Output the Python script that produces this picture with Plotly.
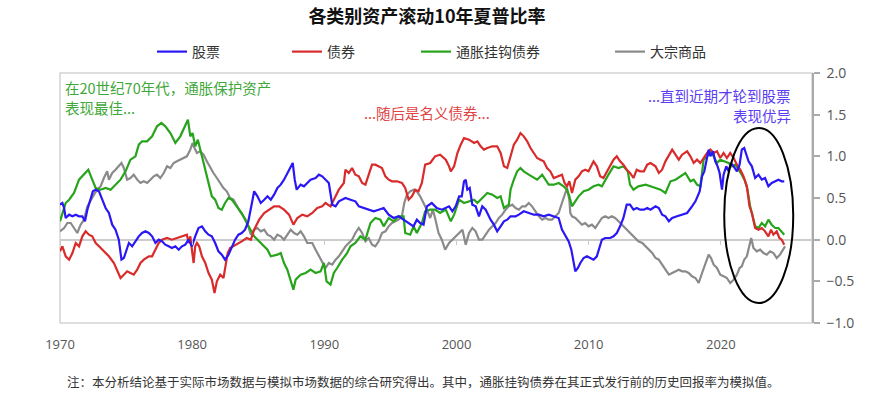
import plotly.graph_objects as go

# ---------------- data ----------------
stock_years = [1970.0, 1970.18, 1970.31, 1970.43, 1970.69, 1970.94, 1971.19, 1971.44, 1971.69, 1971.89,
               1972.07, 1972.32, 1972.49, 1972.70, 1972.95, 1973.20, 1973.45, 1973.70, 1973.95, 1974.20,
               1974.45, 1974.65, 1974.83, 1974.96, 1975.21, 1975.46, 1975.71, 1975.96, 1976.21, 1976.46,
               1976.72, 1976.97, 1977.22, 1977.47, 1977.72, 1977.97, 1978.22, 1978.47, 1978.73, 1978.98,
               1979.23, 1979.48, 1979.73, 1979.98, 1980.23, 1980.48, 1980.74, 1980.99, 1981.24, 1981.49,
               1981.74, 1981.99, 1982.24, 1982.49, 1982.75, 1983.00, 1983.25, 1983.50, 1983.75, 1984.00,
               1984.25, 1984.57, 1984.69, 1984.94, 1985.19, 1985.45, 1985.70, 1985.95, 1986.20, 1986.45,
               1986.70, 1986.95, 1987.20, 1987.46, 1987.61, 1987.76, 1987.91, 1988.21, 1988.46, 1988.71,
               1988.96, 1989.34, 1989.59, 1989.84, 1990.09, 1990.34, 1990.60, 1990.85, 1991.10, 1991.35,
               1991.60, 1991.98, 1992.35, 1992.61, 1992.98, 1993.36, 1993.74, 1994.11, 1994.49, 1994.87,
               1995.24, 1995.62, 1996.00, 1996.38, 1996.75, 1997.00, 1997.25, 1997.51, 1997.76, 1998.13,
               1998.51, 1998.89, 1999.44, 1999.69, 1999.94, 2000.20, 2000.40, 2000.57, 2000.70, 2000.82,
               2001.00, 2001.20, 2001.45, 2001.70, 2001.95, 2002.21, 2002.58, 2002.83, 2003.08, 2003.34,
               2003.59, 2003.84, 2004.09, 2004.47, 2004.72, 2005.09, 2005.47, 2005.85, 2006.23, 2006.60,
               2006.98, 2007.36, 2007.73, 2007.98, 2008.24, 2008.49, 2008.69, 2008.86, 2008.99, 2009.19,
               2009.37, 2009.62, 2009.87, 2010.12, 2010.37, 2010.62, 2010.87, 2011.00, 2011.25, 2011.63,
               2011.88, 2012.13, 2012.38, 2012.63, 2012.88, 2013.13, 2013.39, 2013.64, 2013.89, 2014.18,
               2014.43, 2014.68, 2015.06, 2015.31, 2015.56, 2015.81, 2016.07, 2016.32, 2016.69, 2017.07,
               2017.45, 2017.82, 2018.08, 2018.40, 2018.58, 2018.75, 2018.90, 2019.08, 2019.21, 2019.41,
               2019.58, 2019.76, 2019.91, 2020.09, 2020.21, 2020.41, 2020.59, 2020.76, 2020.97, 2021.22,
               2021.42, 2021.59, 2021.77, 2021.92, 2022.10, 2022.35, 2022.60, 2022.85, 2023.10, 2023.35,
               2023.60, 2023.85, 2024.11, 2024.36, 2024.61, 2024.80]
stock_vals = [0.42, 0.44, 0.38, 0.26, 0.30, 0.28, 0.30, 0.28, 0.28, 0.22,
              0.36, 0.48, 0.58, 0.60, 0.58, 0.48, 0.38, 0.32, 0.18, 0.12,
              0.00, -0.24, -0.22, -0.16, -0.04, -0.08, -0.02, 0.04, 0.08, 0.10,
              0.08, 0.04, -0.04, 0.00, -0.02, -0.06, -0.08, -0.10, -0.08, -0.12,
              -0.08, -0.06, 0.00, -0.08, 0.04, 0.14, 0.16, 0.10, 0.06, 0.04,
              -0.04, -0.14, -0.18, -0.24, -0.18, -0.08, 0.00, 0.06, 0.08, 0.12,
              0.22, 0.48, 0.58, 0.52, 0.44, 0.48, 0.52, 0.48, 0.54, 0.62,
              0.66, 0.72, 0.80, 0.88, 0.92, 0.72, 0.60, 0.66, 0.64, 0.68,
              0.72, 0.74, 0.78, 0.76, 0.72, 0.68, 0.42, 0.40, 0.46, 0.48,
              0.50, 0.48, 0.46, 0.40, 0.38, 0.36, 0.34, 0.36, 0.38, 0.30,
              0.26, 0.28, 0.24, 0.20, 0.16, 0.24, 0.20, 0.18, 0.40, 0.44,
              0.38, 0.36, 0.40, 0.34, 0.40, 0.52, 0.52, 0.70, 0.72, 0.60,
              0.62, 0.42, 0.40, 0.28, 0.40, 0.36, 0.24, 0.18, 0.10, 0.16,
              0.22, 0.24, 0.28, 0.28, 0.30, 0.34, 0.32, 0.30, 0.30, 0.28,
              0.30, 0.28, 0.26, 0.12, 0.04, -0.02, -0.12, -0.28, -0.38, -0.34,
              -0.28, -0.22, -0.20, -0.22, -0.24, -0.20, -0.08, 0.00, 0.02, 0.02,
              0.04, 0.08, 0.16, 0.26, 0.42, 0.42, 0.36, 0.38, 0.36, 0.36,
              0.38, 0.36, 0.40, 0.38, 0.30, 0.28, 0.22, 0.26, 0.28, 0.30,
              0.32, 0.40, 0.46, 0.58, 0.76, 0.82, 0.96, 1.08, 1.00, 1.06,
              0.94, 0.88, 0.80, 0.60, 0.78, 0.88, 0.82, 0.92, 0.88, 0.82,
              0.90, 1.08, 1.10, 1.02, 0.94, 0.88, 0.74, 0.78, 0.72, 0.74,
              0.64, 0.68, 0.70, 0.72, 0.70, 0.70]

bond_years = [1970.0, 1970.18, 1970.43, 1970.69, 1970.94, 1971.19, 1971.44, 1971.69, 1971.94, 1972.19,
              1972.44, 1972.70, 1972.95, 1973.32, 1973.70, 1974.08, 1974.33, 1974.58, 1974.83, 1975.08,
              1975.33, 1975.58, 1975.84, 1976.09, 1976.34, 1976.72, 1976.97, 1977.22, 1977.47, 1977.72,
              1978.10, 1978.47, 1978.85, 1979.23, 1979.60, 1979.73, 1979.86, 1979.98, 1980.11, 1980.23,
              1980.36, 1980.53, 1980.74, 1980.99, 1981.24, 1981.49, 1981.69, 1981.87, 1982.12, 1982.37,
              1982.54, 1982.69, 1982.87, 1983.12, 1983.50, 1983.75, 1984.13, 1984.44, 1984.69, 1985.07,
              1985.45, 1985.82, 1986.20, 1986.58, 1986.95, 1987.33, 1987.66, 1987.96, 1988.33, 1988.71,
              1989.09, 1989.47, 1989.84, 1990.09, 1990.47, 1990.72, 1991.10, 1991.48, 1991.60, 1991.85,
              1992.10, 1992.35, 1992.61, 1992.86, 1993.11, 1993.36, 1993.61, 1993.86, 1994.11, 1994.36,
              1994.62, 1994.87, 1995.12, 1995.50, 1995.87, 1996.12, 1996.38, 1996.63, 1996.88, 1997.13,
              1997.38, 1997.63, 1998.01, 1998.38, 1998.76, 1999.19, 1999.44, 1999.57, 1999.82, 2000.07,
              2000.32, 2000.57, 2000.95, 2001.33, 2001.58, 2001.83, 2002.08, 2002.33, 2002.71, 2003.08,
              2003.34, 2003.59, 2003.84, 2004.09, 2004.34, 2004.59, 2004.84, 2005.09, 2005.35, 2005.60,
              2005.85, 2006.10, 2006.35, 2006.60, 2006.85, 2007.10, 2007.36, 2007.73, 2007.98, 2008.18,
              2008.36, 2008.54, 2008.74, 2008.99, 2009.24, 2009.49, 2009.74, 2009.99, 2010.37, 2010.62,
              2010.87, 2011.12, 2011.38, 2011.63, 2011.88, 2012.13, 2012.38, 2012.63, 2012.88, 2013.13,
              2013.39, 2013.64, 2013.89, 2014.18, 2014.43, 2014.68, 2015.06, 2015.31, 2015.56, 2015.81,
              2016.07, 2016.32, 2016.57, 2016.82, 2017.07, 2017.45, 2017.70, 2017.95, 2018.20, 2018.45,
              2018.70, 2018.96, 2019.21, 2019.46, 2019.71, 2019.96, 2020.21, 2020.46, 2020.71, 2020.97,
              2021.22, 2021.47, 2021.72, 2021.97, 2022.17, 2022.35, 2022.60, 2022.85, 2023.10, 2023.35,
              2023.60, 2023.80, 2023.98, 2024.23, 2024.43, 2024.61, 2024.80]
bond_vals = [-0.14, -0.08, -0.20, -0.24, -0.16, -0.04, -0.08, 0.04, 0.10, 0.06,
             0.04, -0.04, -0.08, -0.14, -0.20, -0.28, -0.36, -0.46, -0.42, -0.38,
             -0.40, -0.42, -0.36, -0.28, -0.24, -0.20, -0.20, -0.12, -0.04, 0.00,
             0.02, 0.00, 0.02, 0.04, 0.06, -0.04, 0.04, -0.12, -0.28, -0.08,
             -0.04, -0.08, -0.20, -0.28, -0.40, -0.48, -0.64, -0.50, -0.42, -0.46,
             -0.32, -0.16, -0.10, -0.08, -0.04, -0.02, 0.02, 0.00, 0.12, 0.24,
             0.32, 0.36, 0.40, 0.40, 0.36, 0.30, 0.18, 0.26, 0.30, 0.28,
             0.32, 0.38, 0.40, 0.44, 0.40, 0.48, 0.60, 0.68, 0.84, 0.80,
             0.86, 0.78, 0.76, 0.68, 0.66, 0.78, 0.90, 0.90, 0.88, 0.86,
             0.76, 0.72, 0.70, 0.70, 0.68, 0.62, 0.48, 0.52, 0.60, 0.58,
             0.68, 0.90, 0.92, 1.00, 1.02, 0.96, 0.88, 0.82, 0.88, 1.04,
             1.14, 1.22, 1.20, 1.16, 1.18, 1.12, 1.08, 1.10, 1.12, 1.12,
             1.04, 0.88, 0.86, 1.00, 1.14, 1.20, 1.28, 1.24, 1.18, 1.10,
             1.04, 0.98, 0.96, 0.94, 0.86, 0.82, 0.74, 0.76, 0.78, 0.68,
             0.64, 0.70, 0.56, 0.72, 0.76, 0.82, 0.84, 0.82, 0.94, 0.88,
             0.76, 0.74, 0.82, 0.90, 0.96, 1.00, 0.94, 0.90, 0.84, 0.80,
             0.74, 0.84, 0.82, 0.82, 0.90, 0.92, 0.88, 0.80, 0.84, 0.94,
             1.02, 1.08, 1.02, 0.96, 1.02, 1.06, 1.00, 0.92, 0.96, 0.92,
             0.98, 1.04, 1.08, 1.04, 1.06, 0.98, 1.04, 0.98, 1.04, 0.98,
             0.90, 0.84, 0.76, 0.64, 0.40, 0.32, 0.14, 0.12, 0.14, 0.10,
             0.04, 0.12, 0.06, 0.10, 0.02, 0.00, -0.06]

tips_years = [1970.0, 1970.43, 1970.69, 1971.06, 1971.44, 1971.82, 1972.14, 1972.44, 1972.70, 1973.07,
              1973.45, 1973.83, 1974.20, 1974.58, 1974.96, 1975.33, 1975.71, 1975.96, 1976.21, 1976.59,
              1976.97, 1977.34, 1977.67, 1977.97, 1978.35, 1978.73, 1979.10, 1979.35, 1979.68, 1979.86,
              1980.03, 1980.23, 1980.43, 1980.74, 1980.99, 1981.29, 1981.49, 1981.74, 1981.99, 1982.24,
              1982.49, 1982.75, 1983.00, 1983.37, 1983.75, 1984.13, 1984.69, 1985.19, 1985.70, 1985.95,
              1986.45, 1986.70, 1986.95, 1987.20, 1987.46, 1987.66, 1987.83, 1988.21, 1988.59, 1988.96,
              1989.34, 1989.72, 1989.97, 1990.17, 1990.47, 1990.72, 1990.97, 1991.35, 1991.73, 1991.98,
              1992.35, 1992.73, 1993.11, 1993.49, 1993.86, 1994.24, 1994.49, 1994.87, 1995.24, 1995.62,
              1996.00, 1996.12, 1996.50, 1996.75, 1997.00, 1997.38, 1997.63, 1998.01, 1998.38, 1998.76,
              1999.19, 1999.57, 1999.82, 2000.20, 2000.57, 2000.95, 2001.33, 2001.58, 2001.95, 2002.33,
              2002.71, 2003.08, 2003.34, 2003.59, 2003.96, 2004.09, 2004.34, 2004.59, 2004.84, 2005.09,
              2005.47, 2005.72, 2006.10, 2006.48, 2006.73, 2006.98, 2007.36, 2007.73, 2008.11, 2008.36,
              2008.54, 2008.74, 2008.99, 2009.24, 2009.62, 2009.99, 2010.37, 2010.75, 2011.00, 2011.25,
              2011.50, 2011.88, 2012.26, 2012.63, 2012.96, 2013.13, 2013.39, 2013.76, 2014.31, 2014.68,
              2015.06, 2015.44, 2015.81, 2016.19, 2016.57, 2016.95, 2017.32, 2017.70, 2017.95, 2018.20,
              2018.45, 2018.58, 2018.70, 2018.96, 2019.21, 2019.46, 2019.71, 2019.96, 2020.34, 2020.59,
              2020.84, 2021.09, 2021.34, 2021.59, 2021.84, 2022.02, 2022.22, 2022.42, 2022.60, 2022.85,
              2023.10, 2023.35, 2023.60, 2023.85, 2024.11, 2024.36, 2024.61, 2024.80]
tips_vals = [0.22, 0.44, 0.48, 0.56, 0.72, 0.78, 0.84, 0.72, 0.62, 0.60,
             0.62, 0.60, 0.66, 0.72, 0.82, 0.96, 1.00, 1.14, 1.18, 1.18,
             1.24, 1.36, 1.40, 1.36, 1.28, 1.16, 1.24, 1.32, 1.44, 1.24,
             1.28, 1.12, 1.20, 1.00, 0.84, 0.68, 0.52, 0.48, 0.38, 0.36,
             0.44, 0.50, 0.48, 0.40, 0.32, 0.20, 0.04, -0.04, -0.12, -0.20,
             -0.18, -0.16, -0.28, -0.36, -0.50, -0.60, -0.48, -0.42, -0.40, -0.36,
             -0.40, -0.38, -0.28, -0.50, -0.54, -0.40, -0.34, -0.24, -0.16, -0.08,
             -0.04, 0.04, 0.00, 0.20, 0.26, 0.24, 0.16, 0.26, 0.22, 0.28,
             0.28, 0.08, 0.06, 0.16, 0.08, 0.20, 0.34, 0.36, 0.36, 0.32,
             0.36, 0.22, 0.30, 0.48, 0.44, 0.46, 0.48, 0.44, 0.50, 0.56,
             0.54, 0.50, 0.52, 0.38, 0.42, 0.60, 0.72, 0.82, 0.86, 0.82,
             0.78, 0.76, 0.72, 0.78, 0.72, 0.66, 0.66, 0.68, 0.64, 0.60,
             0.52, 0.40, 0.46, 0.52, 0.58, 0.60, 0.64, 0.66, 0.64, 0.72,
             0.78, 0.88, 0.86, 0.88, 0.82, 0.66, 0.60, 0.64, 0.66, 0.64,
             0.62, 0.60, 0.56, 0.70, 0.72, 0.76, 0.80, 0.70, 0.72, 0.66,
             0.64, 0.80, 0.96, 1.00, 1.04, 1.00, 0.92, 0.96, 0.94, 0.92,
             0.88, 0.90, 0.84, 0.78, 0.70, 0.60, 0.40, 0.26, 0.16, 0.14,
             0.20, 0.16, 0.24, 0.18, 0.14, 0.14, 0.10, 0.06]

cmdty_years = [1970.0, 1970.31, 1970.56, 1970.81, 1971.06, 1971.31, 1971.56, 1971.82, 1972.07, 1972.32,
               1972.57, 1972.82, 1973.07, 1973.32, 1973.57, 1973.70, 1973.95, 1974.20, 1974.45, 1974.65,
               1974.83, 1975.08, 1975.33, 1975.58, 1975.84, 1976.09, 1976.34, 1976.59, 1976.84, 1977.09,
               1977.34, 1977.59, 1977.85, 1978.10, 1978.35, 1978.60, 1978.85, 1979.10, 1979.35, 1979.60,
               1979.86, 1980.03, 1980.18, 1980.36, 1980.61, 1980.86, 1981.11, 1981.36, 1981.61, 1981.87,
               1982.12, 1982.37, 1982.62, 1982.87, 1983.12, 1983.37, 1983.62, 1983.88, 1984.13, 1984.44,
               1984.69, 1984.94, 1985.19, 1985.45, 1985.70, 1985.95, 1986.20, 1986.45, 1986.70, 1986.95,
               1987.20, 1987.46, 1987.71, 1987.96, 1988.21, 1988.46, 1988.71, 1989.09, 1989.34, 1989.59,
               1989.84, 1990.09, 1990.34, 1990.60, 1990.85, 1991.10, 1991.35, 1991.60, 1991.85, 1992.10,
               1992.35, 1992.61, 1992.86, 1993.11, 1993.36, 1993.61, 1993.86, 1994.11, 1994.36, 1994.62,
               1994.87, 1995.12, 1995.37, 1995.62, 1995.87, 1996.05, 1996.25, 1996.50, 1996.75, 1997.00,
               1997.25, 1997.51, 1997.76, 1998.01, 1998.21, 1998.38, 1998.64, 1998.89, 1999.14, 1999.44,
               1999.69, 1999.94, 2000.20, 2000.45, 2000.70, 2000.95, 2001.20, 2001.45, 2001.70, 2001.95,
               2002.21, 2002.46, 2002.71, 2002.96, 2003.21, 2003.46, 2003.71, 2003.96, 2004.22, 2004.47,
               2004.72, 2004.97, 2005.22, 2005.47, 2005.72, 2005.97, 2006.23, 2006.48, 2006.73, 2006.98,
               2007.23, 2007.48, 2007.73, 2007.98, 2008.18, 2008.36, 2008.54, 2008.61, 2008.74, 2008.99,
               2009.24, 2009.49, 2009.74, 2009.99, 2010.25, 2010.50, 2010.75, 2011.00, 2011.25, 2011.50,
               2011.75, 2012.00, 2012.26, 2012.51, 2012.76, 2013.01, 2013.26, 2013.51, 2013.76, 2014.06,
               2014.31, 2014.56, 2014.81, 2015.06, 2015.31, 2015.56, 2015.81, 2016.07, 2016.32, 2016.57,
               2016.82, 2017.07, 2017.32, 2017.57, 2017.82, 2018.08, 2018.33, 2018.58, 2018.83, 2019.08,
               2019.26, 2019.46, 2019.71, 2019.96, 2020.21, 2020.46, 2020.71, 2020.97, 2021.22, 2021.42,
               2021.59, 2021.77, 2021.97, 2022.17, 2022.30, 2022.47, 2022.72, 2022.98, 2023.23, 2023.48,
               2023.73, 2023.98, 2024.23, 2024.48, 2024.68, 2024.86]
cmdty_vals = [0.10, 0.14, 0.20, 0.20, 0.14, 0.08, 0.18, 0.24, 0.40, 0.48,
              0.54, 0.60, 0.64, 0.74, 0.82, 0.72, 0.80, 0.84, 0.88, 0.92,
              0.86, 0.72, 0.74, 0.78, 0.72, 0.68, 0.70, 0.68, 0.72, 0.76,
              0.78, 0.74, 0.80, 0.88, 0.86, 0.92, 0.94, 0.96, 0.98, 1.00,
              1.08, 1.16, 1.10, 1.04, 1.06, 1.02, 0.94, 0.86, 0.80, 0.74,
              0.68, 0.62, 0.58, 0.50, 0.48, 0.40, 0.34, 0.28, 0.22, 0.06,
              0.12, 0.14, 0.10, 0.12, 0.06, 0.04, 0.00, 0.06, 0.04, 0.00,
              0.06, 0.12, 0.08, 0.06, 0.10, 0.04, -0.04, -0.04, -0.12, -0.20,
              -0.28, -0.34, -0.28, -0.30, -0.24, -0.20, -0.14, -0.08, -0.04, 0.00,
              0.08, 0.14, 0.08, -0.02, 0.02, -0.06, -0.08, -0.02, 0.08, 0.10,
              0.16, 0.20, 0.22, 0.24, 0.28, 0.44, 0.54, 0.58, 0.60, 0.58,
              0.52, 0.44, 0.36, 0.26, 0.36, 0.26, 0.08, 0.00, -0.12, -0.04,
              0.00, 0.04, 0.08, 0.12, -0.06, 0.08, 0.14, 0.10, 0.00, 0.00,
              0.06, 0.12, 0.16, 0.20, 0.26, 0.30, 0.36, 0.40, 0.42, 0.38,
              0.36, 0.40, 0.40, 0.44, 0.40, 0.34, 0.28, 0.24, 0.26, 0.24,
              0.24, 0.28, 0.32, 0.44, 0.54, 0.62, 0.48, 0.32, 0.28, 0.26,
              0.22, 0.18, 0.20, 0.16, 0.18, 0.14, 0.20, 0.26, 0.28, 0.26,
              0.28, 0.26, 0.22, 0.18, 0.14, 0.10, 0.06, 0.02, -0.02, -0.04,
              -0.08, -0.12, -0.16, -0.22, -0.24, -0.30, -0.36, -0.42, -0.40, -0.38,
              -0.36, -0.38, -0.38, -0.40, -0.44, -0.46, -0.52, -0.40, -0.30, -0.18,
              -0.22, -0.30, -0.34, -0.42, -0.44, -0.46, -0.52, -0.48, -0.42, -0.34,
              -0.32, -0.24, -0.20, -0.06, 0.02, -0.10, -0.14, -0.12, -0.16, -0.18,
              -0.14, -0.16, -0.22, -0.18, -0.12, -0.08]

series_names = ["股票", "债券", "通胀挂钩债券", "大宗商品"]
series_colors = ["#2a17f5", "#d92b2b", "#27a41c", "#8a8a8a"]

x_tick_vals = [1970, 1980, 1990, 2000, 2010, 2020]
x_tick_text = ["1970", "1980", "1990", "2000", "2010", "2020"]
y_tick_vals = [-1.0, -0.5, 0.0, 0.5, 1.0, 1.5, 2.0]

title_text = "各类别资产滚动10年夏普比率"
note_green_lines = ["在20世纪70年代，通胀保护资产", "表现最佳..."]
note_red = "...随后是名义债券..."
note_blue_lines = ["...直到近期才轮到股票", "表现优异"]
footnote = "注：本分析结论基于实际市场数据与模拟市场数据的综合研究得出。其中，通胀挂钩债券在其正式发行前的历史回报率为模拟值。"

# highlighted period (ellipse) in data units
ellipse_x = [2020.26, 2025.48]
ellipse_y = [-0.76, 1.34]

# ---------------- figure ----------------
W, H = 895, 397
ML, MR, MT, MB = 60, 83, 73, 74
CJK = "Noto Sans CJK SC"

fig = go.Figure()

series = [
    (stock_years, stock_vals),
    (bond_years, bond_vals),
    (tips_years, tips_vals),
    (cmdty_years, cmdty_vals),
]
legend_ids = ["legend", "legend2", "legend3", "legend4"]
draw_order = [3, 2, 1, 0]
for i in draw_order:
    xs, ys = series[i]
    fig.add_trace(go.Scatter(
        x=xs, y=ys, mode="lines", name=series_names[i],
        line=dict(color=series_colors[i], width=2.2),
        legend=legend_ids[i], hoverinfo="skip",
    ))

# legends: one per entry, placed like the reference
legend_px = [152, 287, 416, 610]
legend_common = dict(
    orientation="h", xref="container", yref="container",
    yanchor="middle", xanchor="left", y=1 - 52 / H,
    font=dict(family=CJK, size=14, color="#333333"),
    bgcolor="rgba(0,0,0,0)", borderwidth=0, itemwidth=30,
)
for lid, px in zip(legend_ids, legend_px):
    fig.update_layout(**{lid: dict(legend_common, x=px / W)})

fig.update_layout(
    width=W, height=H,
    margin=dict(l=ML, r=MR, t=MT, b=MB, autoexpand=False),
    paper_bgcolor="white", plot_bgcolor="white",
    showlegend=True,
    title=dict(text=title_text, x=427 / W, xanchor="center", xref="container",
               y=1 - 17 / H, yanchor="middle", yref="container",
               font=dict(family=CJK, size=18, color="#111111", weight="bold")),
    xaxis=dict(range=[1970.0, 2026.9], tickvals=x_tick_vals, ticktext=x_tick_text,
               showgrid=False, zeroline=False, showline=False, ticks="",
               ticklabelstandoff=12,
               tickfont=dict(family="Open Sans", size=13, color="#555555")),
    xaxis2=dict(range=[1970.0, 2026.9], overlaying="x", anchor="free", position=1 / 3,
                tickvals=x_tick_vals, showticklabels=False, ticks="outside", ticklen=4,
                tickwidth=1.2, tickcolor="#c8c8c8", showgrid=False, zeroline=False, showline=False),
    yaxis=dict(range=[-1.0, 2.0], side="right", tickvals=y_tick_vals, tickformat=".1f",
               showgrid=False, zeroline=True, zerolinecolor="#cccccc", zerolinewidth=1.5,
               showline=True, linecolor="#aaaaaa", linewidth=1.5,
               ticks="outside", ticklen=6, tickwidth=1.5, tickcolor="#aaaaaa",
               ticklabelstandoff=4,
               tickfont=dict(family="Open Sans", size=14, color="#555555")),
    shapes=[
        dict(type="rect", xref="paper", yref="paper", x0=0, x1=1, y0=0, y1=1,
             line=dict(color="#d4d4d4", width=1.5), layer="below"),
        dict(type="circle", xref="x", yref="y", x0=ellipse_x[0], x1=ellipse_x[1],
             y0=ellipse_y[0], y1=ellipse_y[1], line=dict(color="#000000", width=2)),
    ],
)

PW = W - ML - MR
PH = H - MT - MB


def px_x(p):
    return (p - ML) / PW


def px_y(p):
    return (H - MB - p) / PH


NOTE_SIZE = 14.5
for txt, yy in zip(note_green_lines, [87.5, 107.5]):
    fig.add_annotation(text=txt, xref="paper", yref="paper", x=px_x(64), y=px_y(yy),
                       xanchor="left", yanchor="middle", align="left", showarrow=False,
                       borderpad=0, font=dict(family=CJK, size=NOTE_SIZE, color="#3fa83a"))
fig.add_annotation(text=note_red, xref="paper", yref="paper", x=px_x(426.5), y=px_y(112),
                   xanchor="center", yanchor="middle", showarrow=False, borderpad=0,
                   font=dict(family=CJK, size=NOTE_SIZE, color="#e04545"))
for txt, yy in zip(note_blue_lines, [95, 115]):
    fig.add_annotation(text=txt, xref="paper", yref="paper", x=px_x(792), y=px_y(yy),
                       xanchor="right", yanchor="middle", align="right", showarrow=False,
                       borderpad=0, font=dict(family=CJK, size=NOTE_SIZE, color="#5a3cf2"))
fig.add_annotation(text=footnote, xref="paper", yref="paper", x=px_x(65), y=px_y(381),
                   xanchor="left", yanchor="middle", align="left", showarrow=False,
                   font=dict(family=CJK, size=12.5, color="#333333"))

# the overlay axis carries no data of its own; keep an empty trace on it so it renders
fig.add_trace(go.Scatter(x=[], y=[], xaxis="x2", showlegend=False, hoverinfo="skip"))

# remove the browser's default page margin so the figure sits at the window's top-left
fig.write_html("out.html",
               config={"displayModeBar": False},
               post_script="document.body.style.margin='0px';document.body.style.overflow='hidden';")
